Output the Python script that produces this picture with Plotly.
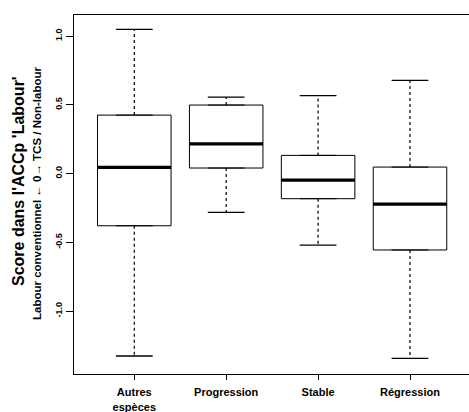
import plotly.graph_objects as go

categories = ["Autres<br>espèces", "Progression", "Stable", "Régression"]
positions = [1, 2, 3, 4]
lower_whisker = [-1.327, -0.282, -0.52, -1.345]
q1 = [-0.38, 0.04, -0.183, -0.556]
median = [0.045, 0.215, -0.048, -0.222]
q3 = [0.425, 0.498, 0.132, 0.047]
upper_whisker = [1.049, 0.556, 0.566, 0.678]

y_tickvals = [-1.0, -0.5, 0.0, 0.5, 1.0]
y_ticktext = ["-1.0", "-0.5", "0.0", "0.5", "1.0"]

BOX_W = 0.8
CAP_W = 0.4

fig = go.Figure()

for i, p in enumerate(positions):
    fig.add_trace(go.Box(
        x=[p], q1=[q1[i]], median=[median[i]], q3=[q3[i]],
        lowerfence=[q1[i]], upperfence=[q3[i]],
        width=BOX_W, boxpoints=False,
        fillcolor="white", line=dict(color="black", width=1),
        hoverinfo="skip", showlegend=False,
    ))

# whiskers (dashed)
wx, wy = [], []
for i, p in enumerate(positions):
    wx += [p, p, None, p, p, None]
    wy += [q3[i], upper_whisker[i], None, q1[i], lower_whisker[i], None]
fig.add_trace(go.Scatter(x=wx, y=wy, mode="lines",
                         line=dict(color="black", width=1.2, dash="3px,3px"),
                         hoverinfo="skip", showlegend=False))

# caps
cx, cy = [], []
for i, p in enumerate(positions):
    cx += [p - CAP_W / 2, p + CAP_W / 2, None, p - CAP_W / 2, p + CAP_W / 2, None]
    cy += [upper_whisker[i], upper_whisker[i], None, lower_whisker[i], lower_whisker[i], None]
fig.add_trace(go.Scatter(x=cx, y=cy, mode="lines",
                         line=dict(color="black", width=1.3),
                         hoverinfo="skip", showlegend=False))

# medians (thick)
mx, my = [], []
for i, p in enumerate(positions):
    mx += [p - BOX_W / 2, p + BOX_W / 2, None]
    my += [median[i], median[i], None]
fig.add_trace(go.Scatter(x=mx, y=my, mode="lines",
                         line=dict(color="black", width=3.2),
                         hoverinfo="skip", showlegend=False))

font_main = "Liberation Sans, Arial, sans-serif"

fig.update_layout(
    width=469, height=412,
    margin=dict(l=74, r=0, t=15, b=38),
    paper_bgcolor="white", plot_bgcolor="white",
    showlegend=False,
    font=dict(family=font_main, color="black"),
    xaxis=dict(
        range=[0.344, 4.642], tickvals=positions,
        ticktext=[f"<b>{c}</b>".replace("<br>", "</b><br><b>") for c in categories],
        ticks="outside", ticklen=5, tickwidth=1, tickcolor="black",
        ticklabelstandoff=3, automargin=False,
        showline=True, mirror=True, linecolor="black", linewidth=1.3,
        showgrid=False, zeroline=False,
        tickfont=dict(size=11, family=font_main, color="black"),
    ),
    yaxis=dict(
        range=[-1.458, 1.153], tickvals=y_tickvals, ticktext=[f"<b>{t}</b>" for t in y_ticktext],
        tickangle=-90, ticks="outside", ticklen=7, tickwidth=1, tickcolor="black",
        automargin=False,
        showline=True, mirror=False, linecolor="black", linewidth=1.3,
        showgrid=False, zeroline=False,
        tickfont=dict(size=9, family=font_main, color="black"),
    ),
    annotations=[
        dict(text="<b>Score dans l'ACCp 'Labour'</b>", textangle=-90,
             xref="paper", yref="paper", x=(18 - 74) / 395, y=(374 - 181) / 359,
             xanchor="center", yanchor="middle", showarrow=False,
             font=dict(size=16, family=font_main, color="black")),
        dict(text="<b>Labour conventionnel ← 0→ TCS / Non-labour</b>", textangle=-90,
             xref="paper", yref="paper", x=(37 - 74) / 395, y=(374 - 193) / 359,
             xanchor="center", yanchor="middle", showarrow=False,
             font=dict(size=11.5, family=font_main, color="black")),
    ],
)

fig.write_html("out.html", config={"displayModeBar": False},
               post_script="document.body.style.margin='0px';")
